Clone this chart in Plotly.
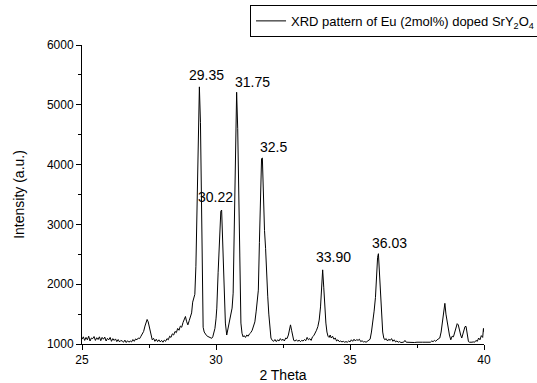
import plotly.graph_objects as go

two_theta = [
    25.00, 25.05, 25.10, 25.15, 25.20, 25.25, 25.30, 25.35, 25.40, 25.45, 25.50, 25.55, 25.60, 25.65, 25.70,
    25.75, 25.80, 25.85, 25.90, 25.95, 26.00, 26.05, 26.10, 26.15, 26.20, 26.25, 26.30, 26.35, 26.40, 26.45,
    26.50, 26.55, 26.60, 26.65, 26.70, 26.75, 26.80, 26.85, 26.90, 26.95, 27.00, 27.05, 27.10, 27.15, 27.20,
    27.25, 27.30, 27.35, 27.40, 27.43, 27.47, 27.52, 27.57, 27.62, 27.67, 27.72, 27.77, 27.82, 27.87, 27.92,
    27.97, 28.02, 28.07, 28.12, 28.17, 28.22, 28.27, 28.32, 28.37, 28.42, 28.47, 28.52, 28.57, 28.62, 28.67,
    28.72, 28.77, 28.82, 28.86, 28.90, 28.95, 29.00, 29.05, 29.09, 29.13, 29.17, 29.21, 29.25, 29.30, 29.34,
    29.38, 29.42, 29.46, 29.49, 29.52, 29.56, 29.60, 29.65, 29.70, 29.75, 29.80, 29.84, 29.88, 29.92, 29.96,
    30.00, 30.03, 30.08, 30.13, 30.18, 30.21, 30.25, 30.30, 30.35, 30.40, 30.45, 30.50, 30.55, 30.60, 30.64,
    30.68, 30.72, 30.77, 30.81, 30.85, 30.89, 30.93, 30.97, 31.01, 31.05, 31.10, 31.15, 31.20, 31.25, 31.30,
    31.35, 31.40, 31.45, 31.50, 31.54, 31.58, 31.62, 31.66, 31.70, 31.73, 31.77, 31.81, 31.85, 31.89, 31.93,
    31.97, 32.01, 32.05, 32.10, 32.15, 32.20, 32.25, 32.30, 32.35, 32.40, 32.45, 32.50, 32.55, 32.60, 32.65,
    32.70, 32.74, 32.78, 32.82, 32.86, 32.90, 32.95, 33.00, 33.05, 33.10, 33.15, 33.20, 33.25, 33.30, 33.35,
    33.40, 33.45, 33.50, 33.55, 33.60, 33.65, 33.70, 33.75, 33.80, 33.85, 33.90, 33.94, 33.98, 34.02, 34.06,
    34.10, 34.14, 34.18, 34.22, 34.26, 34.30, 34.35, 34.40, 34.45, 34.50, 34.55, 34.60, 34.65, 34.70, 34.75,
    34.80, 34.85, 34.90, 34.95, 35.00, 35.05, 35.10, 35.15, 35.20, 35.25, 35.30, 35.35, 35.40, 35.45, 35.50,
    35.55, 35.60, 35.65, 35.70, 35.75, 35.80, 35.85, 35.90, 35.95, 35.99, 36.03, 36.06, 36.10, 36.14, 36.18,
    36.22, 36.26, 36.30, 36.35, 36.40, 36.45, 36.50, 36.55, 36.60, 36.65, 36.70, 36.75, 36.80, 36.85, 36.90,
    37.00, 37.05, 37.10, 37.20, 37.30, 37.40, 37.50, 37.60, 37.70, 37.80, 37.90, 38.00, 38.05, 38.10, 38.15,
    38.20, 38.25, 38.30, 38.35, 38.40, 38.45, 38.50, 38.54, 38.58, 38.62, 38.67, 38.71, 38.76, 38.81, 38.86,
    38.90, 38.95, 39.00, 39.04, 39.08, 39.13, 39.17, 39.21, 39.25, 39.29, 39.33, 39.37, 39.42, 39.46, 39.50,
    39.55, 39.60, 39.65, 39.70, 39.75, 39.80, 39.85, 39.90, 39.95, 39.98, 40.00,
]

intensity = [
    1080, 1120, 1060, 1110, 1070, 1130, 1050, 1100, 1090, 1125, 1060, 1105, 1075, 1120, 1055,
    1110, 1080, 1115, 1050, 1095, 1070, 1110, 1045, 1090, 1060, 1085, 1040, 1075, 1035, 1060,
    1050, 1030, 1065, 1025, 1055, 1030, 1050, 1035, 1075, 1045, 1085, 1070, 1100, 1090, 1130,
    1160, 1210, 1300, 1395, 1410, 1370, 1250, 1130, 1070, 1095, 1045, 1080, 1040, 1070, 1035,
    1060, 1030, 1065, 1045, 1090, 1070, 1130, 1110, 1170, 1150, 1210, 1190, 1260, 1230, 1300,
    1280, 1360, 1440, 1460, 1380, 1320, 1390, 1480, 1520, 1700, 1780, 1830, 2300, 3300, 4600,
    5300, 4700, 3300, 2000, 1280, 1200, 1170, 1140, 1125, 1110, 1100, 1095, 1120, 1180, 1260,
    1420, 1600, 2200, 2900, 3220, 3240, 2700, 1900, 1350, 1150, 1250, 1350, 1460, 1600, 1850,
    2800, 4200, 5210, 4600, 3200, 2000, 1350, 1180, 1120, 1140, 1110, 1150, 1130, 1170, 1190,
    1230, 1300, 1370, 1550, 1700, 1900, 2700, 3500, 4100, 4110, 3400, 2900, 2600, 2100, 1800,
    1500, 1250, 1100, 1060, 1045, 1075, 1040, 1070, 1050, 1090, 1060, 1080, 1050, 1100, 1090,
    1150, 1260, 1320, 1230, 1110, 1060, 1050, 1070, 1045, 1065, 1040, 1060, 1050, 1075, 1055,
    1110, 1070, 1090, 1060, 1120, 1140, 1180, 1230, 1290, 1400, 1620, 1950, 2240, 1950, 1600,
    1350, 1200, 1130, 1110, 1150, 1100, 1130, 1080, 1100, 1050, 1070, 1040, 1050, 1035, 1045,
    1030, 1040, 1030, 1050, 1035, 1070, 1045, 1080, 1050, 1075, 1060, 1080, 1040, 1055, 1035,
    1040, 1030, 1045, 1050, 1080, 1200, 1350, 1550, 1780, 2150, 2450, 2510, 2200, 1800, 1500,
    1200, 1100, 1070, 1090, 1050, 1080, 1060, 1090, 1045, 1070, 1035, 1050, 1030, 1040, 1025,
    1030, 1060, 1030, 1025, 1030, 1025, 1030, 1025, 1030, 1030, 1035, 1030, 1050, 1040, 1060,
    1045, 1070, 1080, 1100, 1200, 1350, 1550, 1680, 1500, 1380, 1290, 1150, 1070, 1130, 1120,
    1180, 1260, 1340, 1320, 1230, 1150, 1100, 1170, 1230, 1290, 1295, 1170, 1040, 1030, 1025,
    1030, 1035, 1030, 1060, 1045, 1100, 1070, 1140, 1110, 1260, 1200,
]

peak_labels = ["29.35", "30.22", "31.75", "32.5", "33.90", "36.03"]
label_x = [29.65, 29.97, 31.35, 32.15, 34.39, 36.49]
label_y = [5498, 3463, 5386, 4299, 2460, 2684]

series_name = "XRD pattern of Eu (2mol%) doped SrY<sub>2</sub>O<sub>4</sub>"

fig = go.Figure()
fig.add_trace(go.Scatter(
    x=two_theta, y=intensity, mode="lines", name=series_name,
    line=dict(color="black", width=1), showlegend=True,
))

for t, lx, ly in zip(peak_labels, label_x, label_y):
    fig.add_annotation(x=lx, y=ly, text=t, showarrow=False,
                       font=dict(size=14, color="black"))

axis_common = dict(
    showline=True, linecolor="black", linewidth=1, mirror=False,
    ticks="outside", ticklen=5, tickwidth=1, tickcolor="black",
    showgrid=False, zeroline=False, automargin=False,
    tickfont=dict(size=12, color="black"),
)

fig.update_xaxes(
    range=[25, 40], dtick=5, tick0=25,
    minor=dict(dtick=2.5, ticks="outside", ticklen=3, tickcolor="black", showgrid=False),
    title=dict(text="2 Theta", font=dict(size=14, color="black"), standoff=8),
    **axis_common,
)
fig.update_yaxes(
    range=[1000, 6000], dtick=1000, tick0=1000,
    minor=dict(dtick=500, ticks="outside", ticklen=3, tickcolor="black", showgrid=False),
    title=dict(text="Intensity (a.u.)", font=dict(size=14, color="black"), standoff=18),
    **axis_common,
)

fig.update_layout(
    width=537, height=383,
    margin=dict(l=82, r=53, t=45, b=39, autoexpand=False),
    paper_bgcolor="white", plot_bgcolor="white",
    font=dict(family="Liberation Sans, Arial, sans-serif", color="black"),
    showlegend=True,
    legend=dict(
        x=0.418, y=1.134, xanchor="left", yanchor="top",
        bgcolor="white", bordercolor="black", borderwidth=1,
        font=dict(size=13, color="black"),
        itemwidth=30, tracegroupgap=0,
    ),
)

fig.write_html("out.html", config={"displayModeBar": False},
               post_script="document.body.style.margin='0px';")
